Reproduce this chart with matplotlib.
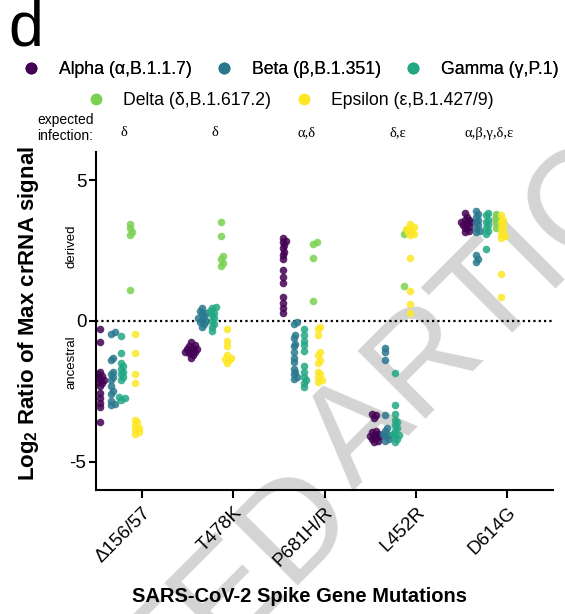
import numpy as np
import matplotlib.pyplot as plt
from matplotlib.lines import Line2D
from matplotlib.transforms import blended_transform_factory

plt.rcParams['font.family'] = ['Liberation Sans', 'DejaVu Sans']
plt.rcParams['mathtext.fontset'] = 'custom'
plt.rcParams['mathtext.rm'] = 'Liberation Sans'
plt.rcParams['mathtext.bf'] = 'Liberation Sans:bold'

mutations = ['Δ156/57', 'T478K', 'P681H/R', 'L452R', 'D614G']
expected = ['δ', 'δ', 'α,δ', 'δ,ε', 'α,β,γ,δ,ε']
variant_names = ['Alpha (α,B.1.1.7)', 'Beta (β,B.1.351)', 'Gamma (γ,P.1)',
                 'Delta (δ,B.1.617.2)', 'Epsilon (ε,B.1.427/9)']
colors = ['#440154', '#2a788e', '#22a884', '#7ad151', '#fde725']

# log2 ratio values, one list per mutation
alpha_vals = [
    [-0.3, -0.75, -1.8, -1.9, -1.95, -2.0, -2.05, -2.1, -2.15, -2.2, -2.3, -2.55, -2.75, -2.9, -3.05, -3.6],
    [-0.75, -0.85, -0.9, -0.95, -1.0, -1.0, -1.05, -1.1, -1.1, -1.15, -1.2, -1.3],
    [2.95, 2.85, 2.8, 2.7, 2.6, 2.45, 2.35, 2.2, 1.8, 1.55, 1.35, 0.85, 0.65, 0.45, 0.3],
    [-3.3, -3.35, -3.45, -3.9, -3.95, -4.0, -4.05, -4.1, -4.1, -4.15, -4.2, -4.25, -4.3],
    [3.85, 3.7, 3.6, 3.6, 3.5, 3.5, 3.45, 3.4, 3.35, 3.3, 3.2, 3.15],
]
beta_vals = [
    [-0.4, -0.45, -1.3, -1.4, -1.8, -1.9, -2.0, -2.1, -2.3, -2.5, -2.6, -2.85, -2.95, -3.0],
    [0.45, 0.35, 0.3, 0.25, 0.15, 0.1, 0.05, 0.0, -0.05, -0.1, -0.2],
    [-0.05, -0.1, -0.5, -0.6, -0.8, -0.9, -1.1, -1.3, -1.45, -1.7, -1.8, -1.9, -2.0, -2.05],
    [-0.95, -1.1, -1.4, -3.35, -3.8, -3.9, -4.0, -4.05, -4.1, -4.2, -4.25],
    [3.9, 3.8, 3.7, 3.6, 3.5, 3.4, 3.3, 3.2, 3.15, 2.35, 2.2, 2.1],
]
gamma_vals = [
    [-0.55, -1.15, -1.5, -1.6, -1.7, -1.8, -1.9, -2.0, -2.1, -2.7, -2.75, -2.8],
    [0.5, 0.45, 0.35, 0.3, 0.2, 0.1, 0.0, -0.1, -0.2, -0.35],
    [-0.3, -0.5, -0.7, -0.85, -1.05, -1.6, -1.8, -2.0, -2.1, -2.2, -2.35],
    [-1.85, -3.0, -3.3, -3.5, -3.6, -3.7, -3.8, -3.9, -4.0, -4.05, -4.1, -4.2, -4.3],
    [3.85, 3.75, 3.6, 3.5, 3.4, 3.3, 3.2, 3.1, 2.55],
]
delta_vals = [
    [3.45, 3.3, 3.15, 3.05, 1.1],
    [3.5, 3.0, 2.3, 2.2, 2.05, 1.95],
    [2.8, 2.75, 2.25, 0.7],
    [3.2, 3.1, 1.25],
    [3.8, 3.65, 3.5, 3.3],
]
epsilon_vals = [
    [-0.45, -1.15, -1.9, -2.2, -3.5, -3.6, -3.7, -3.8, -3.85, -3.95, -4.0],
    [-0.3, -0.7, -0.9, -1.2, -1.3, -1.35, -1.4, -1.5],
    [-0.2, -0.3, -0.5, -1.1, -1.2, -1.4, -1.5, -1.8, -1.9, -2.0, -2.1, -2.15],
    [3.45, 3.35, 3.3, 3.25, 3.2, 3.15, 3.1, 3.05, 2.25, 1.05, 0.6, 0.3],
    [3.75, 3.6, 3.5, 3.4, 3.3, 3.2, 3.1, 3.0, 2.95, 1.65, 0.85],
]
all_vals = [alpha_vals, beta_vals, gamma_vals, delta_vals, epsilon_vals]
# sub-column offset of each variant inside a mutation group
offsets = [-0.46, -0.34, -0.23, -0.13, -0.07]


def swarm(vals, x0, ax, diam=6.5):
    # spread points sideways so they don't sit on top of each other
    trans = ax.transData
    inv = trans.inverted()
    placed = []
    out = np.zeros(len(vals))
    for k in np.argsort(vals):
        px, py = trans.transform((x0, vals[k]))
        for step in range(60):
            dx = ((step + 1) // 2) * diam * 0.3 * (1 if step % 2 else -1)
            if all((px + dx - qx) ** 2 + (py - qy) ** 2 >= (diam * 0.5) ** 2 for qx, qy in placed):
                break
        placed.append((px + dx, py))
        out[k] = inv.transform((px + dx, py))[0]
    return out


fig = plt.figure(figsize=(5.65, 6.14), dpi=100)
ax = fig.add_axes([0.170, 0.202, 0.809, 0.5505])
ax.patch.set_alpha(0)
ax.set_xlim(-0.5, 4.5)
ax.set_ylim(-6, 6)

# watermark
fig.text(0.640, 0.150, 'ACCEPTED', fontsize=100, color='#d4d4d4', rotation=45,
         rotation_mode='anchor', ha='right', va='baseline', zorder=-5)
fig.text(0.625, 0.200, 'ARTICLE', fontsize=100, color='#d4d4d4', rotation=45,
         rotation_mode='anchor', ha='left', va='baseline', zorder=-5)

ax.axhline(0, color='black', lw=1.6, ls=(0, (1, 1.4)), zorder=1)

for v, vals in enumerate(all_vals):
    for i, yv in enumerate(vals):
        xs = swarm(yv, i + offsets[v], ax)
        ax.scatter(xs, yv, s=30, color=colors[v], alpha=0.85, linewidths=0, zorder=2 + v)

for side in ['top', 'right']:
    ax.spines[side].set_visible(False)
for side in ['left', 'bottom']:
    ax.spines[side].set_linewidth(1.5)

ax.set_yticks([-5, 0, 5])
ax.set_yticklabels(['-5', '0', '5'], fontsize=13.5)
ax.set_xticks(range(5))
ax.set_xticklabels(mutations, rotation=45, ha='right', rotation_mode='anchor', fontsize=13.5)
ax.tick_params(axis='y', width=1.5, length=5, pad=2)
ax.tick_params(axis='x', width=1.5, length=6, pad=4)

bt = blended_transform_factory(ax.transAxes, ax.transData)
ax.text(-0.053, 2.65, 'derived', transform=bt, rotation=90, ha='center', va='center', fontsize=9.5)
ax.text(-0.053, -1.45, 'ancestral', transform=bt, rotation=90, ha='center', va='center', fontsize=9.5)

fig.text(0.050, 0.490, r'Log$_{\mathbf{2}}$ Ratio of Max crRNA signal', rotation=90,
         ha='center', va='center', fontsize=16, fontweight='bold')
fig.text(300 / 565, 1 - 597 / 614, 'SARS-CoV-2 Spike Gene Mutations', ha='center', va='center',
         fontsize=14.5, fontweight='bold')

fig.text(0.014, 1.0, 'd', fontsize=45, va='top', ha='left')

handles = [Line2D([], [], ls='', marker='o', markersize=7.5, color=c) for c in colors]
leg1 = fig.legend(handles[:3], variant_names[:3], loc='center', bbox_to_anchor=(0.514, 0.886),
                  ncol=3, frameon=False, fontsize=12.7, handlelength=1, handletextpad=1.05,
                  columnspacing=1.35, borderaxespad=0, borderpad=0)
fig.add_artist(leg1)
fig.legend(handles[3:], variant_names[3:], loc='center', bbox_to_anchor=(0.514, 0.836),
           ncol=2, frameon=False, fontsize=12.7, handlelength=1, handletextpad=1.05,
           columnspacing=1.35, borderaxespad=0, borderpad=0)

fig.text(37 / 565, 1 - 128 / 614, 'expected\ninfection:', ha='left', va='center',
         fontsize=10, linespacing=1.15)
gt = blended_transform_factory(ax.transData, fig.transFigure)
for i, lab in enumerate(expected):
    ax.text(i - 0.2, 1 - 133 / 614, lab, transform=gt, ha='center', va='center',
            fontsize=10.5, family=['Liberation Serif', 'DejaVu Serif'])

fig.savefig('out.png', dpi=100)
